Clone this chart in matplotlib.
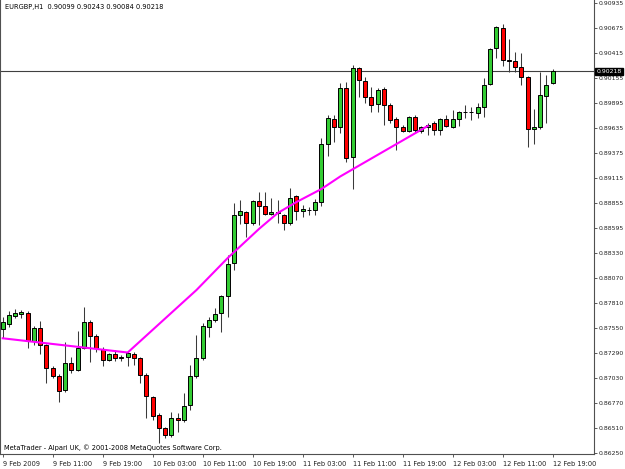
import matplotlib.pyplot as plt
import numpy as np

# EURGBP H1 candles, 9-12 Feb 2009
opens = [0.87540, 0.87592, 0.87675, 0.87696, 0.87706, 0.87415, 0.87550, 0.87373, 0.87134, 0.87051,
         0.86905, 0.87186, 0.87113, 0.87342, 0.87612, 0.87467, 0.87332, 0.87217, 0.87280, 0.87238,
         0.87248, 0.87280, 0.87238, 0.87061, 0.86832, 0.86645, 0.86510, 0.86437, 0.86614, 0.86593,
         0.86749, 0.87051, 0.87238, 0.87560, 0.87633, 0.87706, 0.87883, 0.88226, 0.88725, 0.88756,
         0.88642, 0.88871, 0.88819, 0.88736, 0.88756, 0.88725, 0.88642, 0.88923, 0.88767, 0.88777,
         0.88777, 0.88860, 0.89464, 0.89724, 0.89640, 0.90046, 0.89328, 0.90254, 0.90119, 0.89952,
         0.89880, 0.90036, 0.89869, 0.89724, 0.89640, 0.89599, 0.89744, 0.89599, 0.89640, 0.89682,
         0.89609, 0.89724, 0.89640, 0.89724, 0.89796, 0.89796, 0.89786, 0.89848, 0.90088, 0.90462,
         0.90670, 0.90337, 0.90327, 0.90264, 0.90160, 0.89620, 0.89640, 0.89963, 0.90099]
highs = [0.87664, 0.87727, 0.87748, 0.87737, 0.87727, 0.87571, 0.87623, 0.87384, 0.87155, 0.87072,
         0.87404, 0.87248, 0.87519, 0.87768, 0.87633, 0.87488, 0.87352, 0.87290, 0.87321, 0.87269,
         0.87311, 0.87300, 0.87248, 0.87082, 0.86843, 0.86666, 0.86520, 0.86676, 0.86666, 0.86874,
         0.87165, 0.87477, 0.87602, 0.87664, 0.87758, 0.87893, 0.88309, 0.88850, 0.88881, 0.88767,
         0.88881, 0.88964, 0.88964, 0.88902, 0.88881, 0.88736, 0.89006, 0.88933, 0.88829, 0.88808,
         0.88892, 0.89526, 0.89765, 0.89765, 0.90098, 0.90108, 0.90285, 0.90264, 0.90160, 0.90056,
         0.90046, 0.90056, 0.89890, 0.89744, 0.89661, 0.89755, 0.89765, 0.89651, 0.89682, 0.89703,
         0.89734, 0.89765, 0.89817, 0.89807, 0.89869, 0.89848, 0.89890, 0.90150, 0.90462, 0.90691,
         0.90712, 0.90556, 0.90420, 0.90410, 0.90171, 0.89828, 0.90212, 0.90181, 0.90243]
lows = [0.87446, 0.87560, 0.87654, 0.87654, 0.87342, 0.87373, 0.87280, 0.86978, 0.87030, 0.86780,
        0.86884, 0.87082, 0.87103, 0.87332, 0.87196, 0.87300, 0.87155, 0.87207, 0.87207, 0.87207,
        0.87155, 0.87165, 0.86978, 0.86614, 0.86593, 0.86354, 0.86406, 0.86416, 0.86468, 0.86572,
        0.86697, 0.87030, 0.87217, 0.87456, 0.87612, 0.87508, 0.87664, 0.88153, 0.88632, 0.88496,
        0.88621, 0.88621, 0.88725, 0.88725, 0.88642, 0.88569, 0.88621, 0.88673, 0.88704, 0.88725,
        0.88725, 0.88819, 0.89339, 0.89484, 0.89578, 0.89276, 0.88996, 0.89952, 0.89890, 0.89796,
        0.89796, 0.89661, 0.89682, 0.89401, 0.89588, 0.89588, 0.89578, 0.89578, 0.89557, 0.89557,
        0.89557, 0.89640, 0.89630, 0.89651, 0.89734, 0.89713, 0.89734, 0.89744, 0.90077, 0.90358,
        0.90275, 0.90212, 0.90212, 0.90077, 0.89432, 0.89464, 0.89620, 0.89682, 0.90084]
closes = [0.87612, 0.87685, 0.87706, 0.87716, 0.87415, 0.87550, 0.87373, 0.87134, 0.87051, 0.86895,
          0.87186, 0.87113, 0.87342, 0.87612, 0.87467, 0.87342, 0.87217, 0.87280, 0.87238, 0.87248,
          0.87290, 0.87238, 0.87061, 0.86843, 0.86635, 0.86510, 0.86437, 0.86614, 0.86593, 0.86739,
          0.87051, 0.87238, 0.87571, 0.87633, 0.87696, 0.87883, 0.88216, 0.88725, 0.88767, 0.88642,
          0.88871, 0.88819, 0.88736, 0.88756, 0.88751, 0.88642, 0.88902, 0.88767, 0.88788, 0.88777,
          0.88860, 0.89464, 0.89734, 0.89640, 0.90046, 0.89318, 0.90254, 0.90129, 0.89952, 0.89869,
          0.90025, 0.89869, 0.89713, 0.89640, 0.89599, 0.89744, 0.89609, 0.89640, 0.89661, 0.89609,
          0.89724, 0.89651, 0.89724, 0.89796, 0.89794, 0.89797, 0.89848, 0.90077, 0.90452, 0.90680,
          0.90337, 0.90327, 0.90264, 0.90160, 0.89620, 0.89640, 0.89973, 0.90077, 0.90218]

# magenta indicator line (bar index, price)
line_bars = [0, 20, 31, 36, 41, 44, 47, 51, 54, 68]
line_vals = [0.87443, 0.87295, 0.87945, 0.88278, 0.88580, 0.88746, 0.88860, 0.88996, 0.89126, 0.89651]

ytick_vals = [0.90935, 0.90675, 0.90415, 0.90155, 0.89895, 0.89635, 0.89375, 0.89115, 0.88855, 0.88595,
              0.88330, 0.88070, 0.87810, 0.87550, 0.87290, 0.87030, 0.86770, 0.86510, 0.86250]
xtick_bars = [0, 8, 16, 24, 32, 40, 48, 56, 64, 72, 80, 88]
xtick_labels = ['9 Feb 2009', '9 Feb 11:00', '9 Feb 19:00', '10 Feb 03:00', '10 Feb 11:00',
                '10 Feb 19:00', '11 Feb 03:00', '11 Feb 11:00', '11 Feb 19:00', '12 Feb 03:00',
                '12 Feb 11:00', '12 Feb 19:00']
last_price = 0.90218

fs = 4.8
yfs = 4.4
fig = plt.figure(figsize=(6.25, 4.69), dpi=100)
ax = fig.add_axes([0, 15 / 469, 594 / 625, 454 / 469])

o = np.array(opens)
c = np.array(closes)
x = np.arange(len(o))
up = c >= o

ax.vlines(x, lows, highs, color='#3a3a3a', linewidth=0.75, zorder=2)
ax.bar(x, np.abs(c - o), bottom=np.minimum(o, c), width=0.64,
       color=np.where(up, '#33cc33', '#ff0000'), edgecolor='black', linewidth=0.7, zorder=3)

ax.plot(line_bars, line_vals, color='#ff00ff', linewidth=1.5, zorder=4)
ax.axhline(last_price, color='#404040', linewidth=0.8, zorder=1)

ax.set_xlim(-0.432, 94.6)
ax.set_ylim(0.862396, 0.909612)

ax.yaxis.tick_right()
ax.set_yticks(ytick_vals)
ax.set_yticklabels([f'{v:.5f}' for v in ytick_vals], fontsize=yfs, color='#202020')
ax.set_xticks(xtick_bars)
ax.set_xticklabels(xtick_labels, fontsize=fs, color='#202020', ha='left')
ax.tick_params(axis='both', length=2.0, width=0.6, color='#404040', pad=1.0)
ax.tick_params(axis='x', pad=3)

for side in ['left', 'bottom', 'right']:
    ax.spines[side].set_color('#505050')
    ax.spines[side].set_linewidth(0.8)
ax.spines['top'].set_visible(False)

ax.text(1.004, last_price, f'{last_price:.5f}', transform=ax.get_yaxis_transform(),
        fontsize=yfs, color='white', va='center', ha='left', zorder=10, clip_on=False,
        bbox=dict(facecolor='black', edgecolor='black', boxstyle='square,pad=0.2'))

ax.text(5 / 594, 0.985, 'EURGBP,H1  0.90099 0.90243 0.90084 0.90218', transform=ax.transAxes,
        fontsize=fs, color='black', va='center', ha='left')
ax.text(4 / 594, 0.013, 'MetaTrader - Alpari UK, \u00a9 2001-2008 MetaQuotes Software Corp.',
        transform=ax.transAxes, fontsize=fs, color='black', va='center', ha='left')

fig.savefig('out.png', dpi=100)
